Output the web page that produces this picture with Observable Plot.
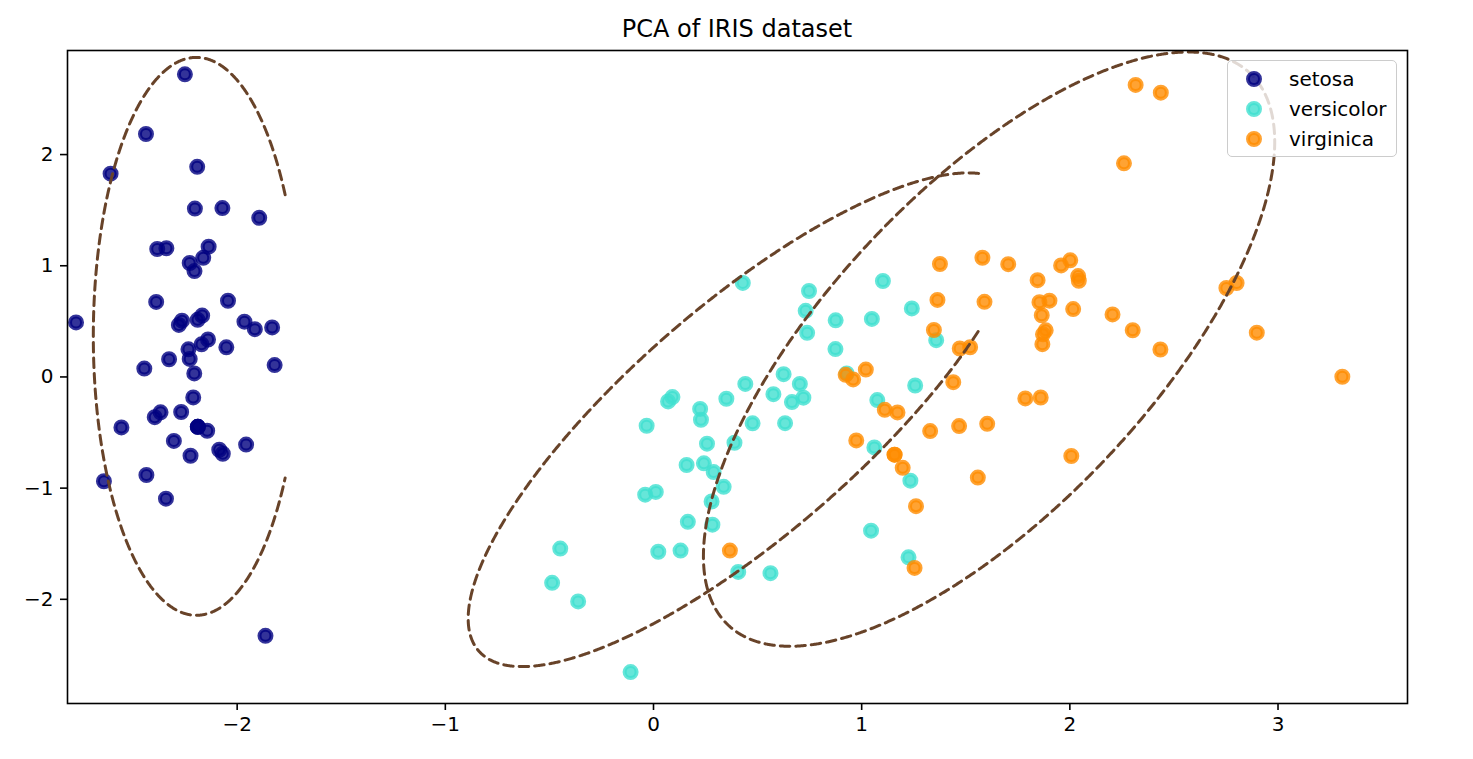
<!DOCTYPE html>
<html><head><meta charset="utf-8">
<script src="https://cdn.jsdelivr.net/npm/d3@7"></script>
<script src="https://cdn.jsdelivr.net/npm/@observablehq/plot@0.6"></script>
<style>
body{margin:0;background:#fff;font-family:"DejaVu Sans",sans-serif;}
#wrap{position:relative;width:1473px;height:759px;overflow:hidden;}
#title{position:absolute;left:67px;width:1340px;top:15px;text-align:center;font-size:24px;line-height:28px;color:#000;}
#chart{position:absolute;left:0;top:40px;}
#legend{position:absolute;left:1227px;top:60px;width:170px;height:97px;box-sizing:border-box;border:1.6px solid #ccc;border-radius:5px;background:rgba(255,255,255,0.8);}
.row{position:absolute;left:0;height:30px;display:flex;align-items:center;font-size:20px;color:#000;white-space:nowrap;}
.row svg{margin-left:14px;margin-right:23px;}
</style></head>
<body>
<div id="wrap">
  <div id="title"></div>
  <div id="chart"></div>
  <div id="legend"></div>
</div>
<script>
const titleText = "PCA of IRIS dataset";
const speciesNames = ["setosa", "versicolor", "virginica"];
const speciesColors = ["navy", "turquoise", "darkorange"];
const xTicks = [-2, -1, 0, 1, 2, 3];
const yTicks = [-2, -1, 0, 1, 2];

const setosa = [[-2.265,0.506],[-2.086,-0.655],[-2.368,-0.318],[-2.304,-0.575],[-2.389,0.675],[-2.071,1.519],[-2.446,0.075],[-2.234,0.248],[-2.342,-1.095],[-2.189,-0.449],[-2.163,1.071],[-2.327,0.159],[-2.224,-0.709],[-2.640,-0.938],[-2.192,1.890],[-2.251,2.722],[-2.203,1.514],[-2.190,0.514],[-1.894,1.431],[-2.340,1.158],[-1.915,0.430],[-2.205,0.952],[-2.774,0.490],[-1.820,0.107],[-2.228,0.162],[-1.957,-0.608],[-2.052,0.266],[-2.168,0.552],[-2.140,0.337],[-2.269,-0.315],[-2.144,-0.484],[-1.832,0.445],[-2.608,1.828],[-2.438,2.185],[-2.189,-0.449],[-2.211,-0.184],[-2.044,0.685],[-2.189,-0.449],[-2.436,-0.882],[-2.171,0.293],[-2.280,0.468],[-1.864,-2.328],[-2.556,-0.454],[-1.965,0.497],[-2.137,1.172],[-2.069,-0.691],[-2.384,1.151],[-2.396,-0.362],[-2.228,1.025],[-2.206,0.032]];
const versicolor = [[1.102,0.863],[0.731,0.595],[1.241,0.616],[0.407,-1.754],[1.075,-0.208],[0.389,-0.592],[0.747,0.773],[-0.487,-1.852],[0.928,0.032],[0.011,-1.034],[-0.110,-2.654],[0.441,-0.063],[0.562,-1.765],[0.720,-0.186],[-0.033,-0.439],[0.875,0.509],[0.350,-0.196],[0.159,-0.792],[1.225,-1.622],[0.165,-1.303],[0.738,0.397],[0.476,-0.417],[1.234,-0.933],[0.632,-0.416],[0.703,-0.063],[0.874,0.251],[1.257,-0.077],[1.358,0.331],[0.665,-0.226],[-0.040,-1.059],[0.130,-1.562],[0.023,-1.572],[0.242,-0.777],[1.061,-0.634],[0.224,-0.288],[0.429,0.846],[1.049,0.522],[1.045,-1.383],[0.070,-0.220],[0.283,-1.329],[0.279,-1.120],[0.625,0.025],[0.337,-0.988],[-0.362,-2.019],[0.289,-0.856],[0.091,-0.181],[0.228,-0.385],[0.576,-0.155],[-0.448,-1.544],[0.257,-0.600]];
const virginica = [[1.845,0.870],[1.158,-0.699],[2.205,0.562],[1.440,-0.047],[1.868,0.295],[2.752,0.800],[0.367,-1.562],[2.302,0.420],[2.007,-0.711],[2.260,1.921],[1.364,0.693],[1.603,-0.422],[1.884,0.419],[1.261,-1.162],[1.468,-0.442],[1.590,0.676],[1.471,0.256],[2.437,2.557],[3.309,0.002],[1.254,-1.718],[2.040,0.907],[0.974,-0.571],[2.898,0.398],[1.329,-0.487],[1.704,1.014],[1.958,1.003],[1.172,-0.319],[1.020,0.066],[1.786,-0.193],[1.865,0.555],[2.435,0.247],[2.316,2.626],[1.860,-0.185],[1.111,-0.296],[1.197,-0.817],[2.801,0.845],[1.580,1.072],[1.347,0.422],[0.923,0.019],[1.854,0.672],[2.016,0.610],[1.902,0.686],[1.158,-0.699],[2.043,0.865],[2.002,1.049],[1.871,0.383],[1.558,-0.905],[1.521,0.267],[1.376,1.016],[0.959,-0.022]];

// dashed ellipses: centre, semi-axes, major-axis angle (deg), right-hand cut
const ellipseCx = [-2.196, 0.44, 1.612];
const ellipseCy = [0.365, -0.385, 0.25];
const ellipseA = [2.509, 2.491, 2.86];
const ellipseB = [0.495, 0.703, 0.919];
const ellipseAngle = [90, 61.8, 67.9];
const ellipseCut = [-1.769, 1.5625, null];

function ellipsePoints(i) {
  const cx = ellipseCx[i], cy = ellipseCy[i], a = ellipseA[i], b = ellipseB[i];
  const th = ellipseAngle[i] * Math.PI / 180, cut = ellipseCut[i] == null ? Infinity : ellipseCut[i];
  const N = 1440, pts = [];
  for (let k = 0; k < N; k++) {
    const t = 2 * Math.PI * k / N, u = a * Math.cos(t), v = b * Math.sin(t);
    pts.push({id: i, x: cx + u * Math.cos(th) - v * Math.sin(th), y: cy + u * Math.sin(th) + v * Math.cos(th)});
  }
  const start = pts.findIndex((p, k) => p.x <= cut && pts[(k - 1 + N) % N].x > cut);
  if (start < 0) { pts.push({...pts[0]}); return pts; }
  const out = [];
  for (let k = 0; k < N; k++) { const p = pts[(start + k) % N]; if (p.x > cut) break; out.push(p); }
  return out;
}
const ellipseData = [0, 1, 2].flatMap(ellipsePoints);

const groups = [setosa, versicolor, virginica];
const dotMarks = groups.map((g, i) => Plot.dot(g, {
  x: d => d[0], y: d => d[1], r: 6,
  fill: speciesColors[i], fillOpacity: 0.8,
  stroke: speciesColors[i], strokeOpacity: 0.8, strokeWidth: 4
}));

const fmt = d3.format("d");
const chart = Plot.plot({
  width: 1473, height: 719,
  marginLeft: 67, marginRight: 66, marginTop: 10, marginBottom: 56,
  style: {fontFamily: "DejaVu Sans", fontSize: "20px", color: "#000", background: "transparent"},
  x: {domain: [-2.815, 3.622], label: null},
  y: {domain: [-2.937, 2.936], label: null},
  marks: [
    ...dotMarks,
    Plot.line(ellipseData, {x: "x", y: "y", z: "id", stroke: "#684329", strokeWidth: 3, strokeDasharray: "9.5,6", clip: true}),
    Plot.frame({stroke: "#000", strokeWidth: 1.6}),
    Plot.axisX({ticks: xTicks, tickFormat: fmt, tickSize: 7, tickPadding: 6, strokeWidth: 1.6, fontSize: 20, label: null}),
    Plot.axisY({ticks: yTicks, tickFormat: fmt, tickSize: 7, tickPadding: 7, strokeWidth: 1.6, fontSize: 20, label: null})
  ]
});
document.getElementById("chart").appendChild(chart);
document.getElementById("title").textContent = titleText;

const legend = document.getElementById("legend");
speciesNames.forEach((name, i) => {
  const row = document.createElement("div");
  row.className = "row";
  row.style.top = (3 + 30 * i) + "px";
  row.innerHTML = `<svg width="24" height="24"><circle cx="12" cy="12" r="6" fill="${speciesColors[i]}" fill-opacity="0.8" stroke="${speciesColors[i]}" stroke-opacity="0.8" stroke-width="4"/></svg><span></span>`;
  row.querySelector("span").textContent = name;
  legend.appendChild(row);
});
</script>
</body></html>
